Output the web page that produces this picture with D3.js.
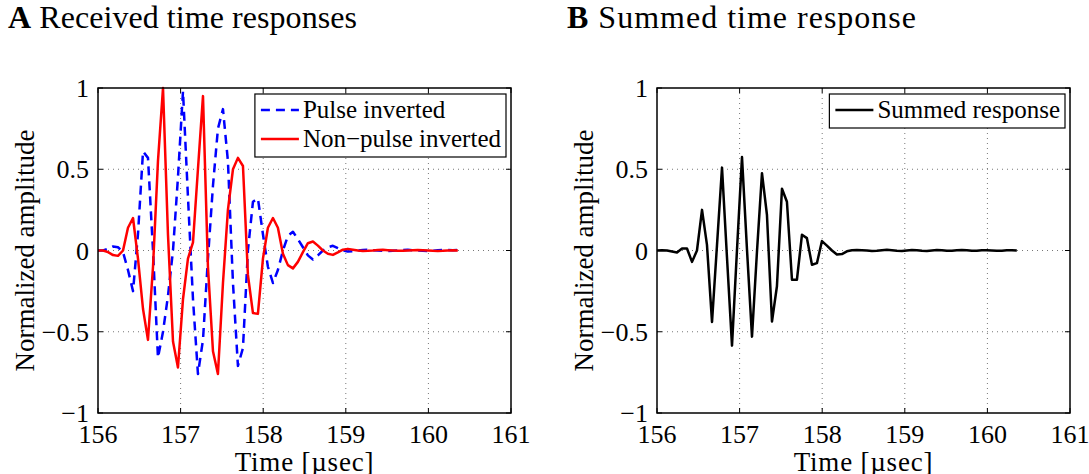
<!DOCTYPE html>
<html>
<head>
<meta charset="utf-8">
<script src="https://cdn.jsdelivr.net/npm/d3@7"></script>
<style>
  body { margin: 0; background: #fff; }
  svg { display: block; }
</style>
</head>
<body>
<div id="viz"></div>
<script>
const width = 1089;
const height = 474;
const serif = '"Liberation Serif", "Times New Roman", Times, serif';

// sample times [usec]
const times = [
  156.000, 156.061, 156.121, 156.182, 156.242, 156.303, 156.363, 156.424, 156.484, 156.545,
  156.605, 156.666, 156.726, 156.787, 156.847, 156.908, 156.968, 157.029, 157.089, 157.150,
  157.210, 157.271, 157.331, 157.392, 157.452, 157.513, 157.573, 157.634, 157.694, 157.755,
  157.815, 157.876, 157.936, 157.997, 158.057, 158.118, 158.178, 158.239, 158.299, 158.360,
  158.420, 158.481, 158.541, 158.602, 158.662, 158.723, 158.783, 158.844, 158.904, 158.965,
  159.025, 159.086, 159.146, 159.207, 159.267, 159.328, 159.388, 159.449, 159.509, 159.570,
  159.630, 159.691, 159.751, 159.812, 159.872, 159.933, 159.993, 160.054, 160.114, 160.175,
  160.235, 160.296, 160.356
];

const pulseInverted = [
  0, 0, 0.01, 0.025, 0.02, -0.01, -0.12, -0.25, 0.1, 0.61,
  0.57, 0.0, -0.66, -0.5, -0.28, 0.0, 0.45, 0.98, 0.33, -0.3,
  -0.76, -0.55, -0.05, 0.4, 0.75, 0.87, 0.55, -0.2, -0.71, -0.6,
  0.0, 0.3, 0.32, 0.1, -0.1, -0.2, -0.12, 0.0, 0.09, 0.115,
  0.07, 0.02, -0.03, -0.055, -0.03, 0.0, 0.02, 0.029, 0.015, 0.0,
  -0.006, -0.005, 0.0, 0.003, 0.004, 0.002, 0.0, -0.002, -0.003, -0.001,
  0.001, 0.003, 0.004, 0.002, 0.0, -0.002, -0.003, -0.001, 0.001, 0.003,
  0.003, 0.002, 0.004
];

const nonPulseInverted = [
  0, 0, -0.01, -0.028, -0.033, 0.0, 0.14, 0.2, -0.05, -0.36,
  -0.55, -0.1, 0.55, 1.0, 0.1, -0.56, -0.72, -0.3, -0.05, 0.05,
  0.5, 0.95, -0.1, -0.62, -0.76, -0.2, 0.25, 0.5, 0.57, 0.52,
  -0.15, -0.385, -0.39, -0.05, 0.14, 0.2, 0.14, -0.02, -0.09, -0.11,
  -0.07, -0.01, 0.045, 0.055, 0.03, 0.0, -0.02, -0.027, -0.012, 0.005,
  0.01, 0.005, 0.0, -0.003, -0.002, 0.0, 0.003, 0.004, 0.002, 0.0,
  -0.002, -0.002, 0.0, 0.002, 0.003, 0.002, 0.0, -0.002, -0.003, -0.002,
  0.0, 0.002, 0.0
];

const summedResponse = [
  0, 0.002, 0.0, -0.006, -0.012, 0.012, 0.012, -0.07, 0.0, 0.25,
  0.035, -0.44, 0.03, 0.51, -0.04, -0.585, 0.0, 0.575, 0.01, -0.53,
  -0.01, 0.476, 0.22, -0.437, -0.22, 0.38, 0.30, -0.18, -0.18, 0.097,
  0.076, -0.088, -0.078, 0.058, 0.03, 0.0, -0.025, -0.022, -0.005, 0.002,
  0.003, 0.002, 0.0, -0.003, -0.002, 0.002, 0.004, 0.002, -0.002, -0.003,
  0.0, 0.003, 0.002, -0.002, -0.003, 0.0, 0.003, 0.002, -0.002, -0.002,
  0.001, 0.003, 0.001, -0.002, -0.002, 0.001, 0.002, 0.0, -0.002, -0.001,
  0.001, 0.001, 0.0
];

const xTicks = [156, 157, 158, 159, 160, 161];
const yTicks = [-1, -0.5, 0, 0.5, 1];

const panels = [
  {
    letter: 'A', title: 'Received time responses', left: 98, titleX: 8, titleW: 349,
    series: [
      {name: 'Pulse inverted', values: pulseInverted, color: '#0000ff', dash: '9,6'},
      {name: 'Non\u2212pulse inverted', values: nonPulseInverted, color: '#ff0000', dash: null}
    ]
  },
  {
    letter: 'B', title: 'Summed time response', left: 657, titleX: 567, titleW: 350,
    series: [
      {name: 'Summed response', values: summedResponse, color: '#000000', dash: null}
    ]
  }
];

const plotW = 413;
const plotTop = 88;
const plotBottom = 413;

const svg = d3.select('#viz')
  .append('svg')
    .attr('width', width)
    .attr('height', height)
    .attr('font-family', serif);

svg.append('rect')
  .attr('width', width)
  .attr('height', height)
  .attr('fill', '#fff');

const fmt = d => d < 0 ? '\u2212' + Math.abs(d) : String(d);

panels.forEach(p => {
  const x = d3.scaleLinear().domain([156, 161]).range([p.left, p.left + plotW]);
  const y = d3.scaleLinear().domain([-1, 1]).range([plotBottom, plotTop]);
  const g = svg.append('g');

  // panel title, spread a little to the width of the original lettering
  const title = svg.append('text')
    .attr('x', p.titleX)
    .attr('y', 28)
    .attr('font-size', 32);
  title.append('tspan').attr('font-weight', 'bold').text(p.letter);
  title.append('tspan').text(' ' + p.title);
  const tw = title.node().getComputedTextLength();
  const nChars = p.letter.length + 1 + p.title.length;
  title.attr('letter-spacing', Math.max(0, (p.titleW - tw) / nChars));

  // dotted grid
  g.selectAll('.gx')
    .data(xTicks.slice(1, -1))
    .join('line')
      .attr('x1', d => x(d)).attr('x2', d => x(d))
      .attr('y1', plotTop).attr('y2', plotBottom)
      .attr('stroke', '#777').attr('stroke-width', 1).attr('stroke-dasharray', '1,4');
  g.selectAll('.gy')
    .data(yTicks.slice(1, -1))
    .join('line')
      .attr('y1', d => y(d)).attr('y2', d => y(d))
      .attr('x1', p.left).attr('x2', p.left + plotW)
      .attr('stroke', '#777').attr('stroke-width', 1).attr('stroke-dasharray', '1,4');

  // inner ticks on all four sides
  const tl = 5;
  xTicks.forEach(t => {
    g.append('line').attr('x1', x(t)).attr('x2', x(t)).attr('y1', plotBottom).attr('y2', plotBottom - tl).attr('stroke', '#000');
    g.append('line').attr('x1', x(t)).attr('x2', x(t)).attr('y1', plotTop).attr('y2', plotTop + tl).attr('stroke', '#000');
  });
  yTicks.forEach(t => {
    g.append('line').attr('x1', p.left).attr('x2', p.left + tl).attr('y1', y(t)).attr('y2', y(t)).attr('stroke', '#000');
    g.append('line').attr('x1', p.left + plotW).attr('x2', p.left + plotW - tl).attr('y1', y(t)).attr('y2', y(t)).attr('stroke', '#000');
  });

  // tick labels
  g.selectAll('.xl')
    .data(xTicks)
    .join('text')
      .attr('x', d => x(d))
      .attr('y', plotBottom + 30)
      .attr('text-anchor', 'middle')
      .attr('font-size', 26)
      .text(d => d);
  g.selectAll('.yl')
    .data(yTicks)
    .join('text')
      .attr('x', p.left - 9)
      .attr('y', d => y(d))
      .attr('dy', '0.35em')
      .attr('text-anchor', 'end')
      .attr('font-size', 26)
      .text(fmt);

  // axis titles
  g.append('text')
    .attr('x', p.left + plotW / 2)
    .attr('y', 471)
    .attr('text-anchor', 'middle')
    .attr('font-size', 27)
    .attr('letter-spacing', 0.8)
    .text('Time [\u00b5sec]');
  g.append('text')
    .attr('transform', `translate(${p.left - 64}, ${(plotTop + plotBottom) / 2}) rotate(-90)`)
    .attr('text-anchor', 'middle')
    .attr('font-size', 27)
    .text('Normalized amplitude');

  // data lines
  const line = d3.line()
    .x((d, i) => x(times[i]))
    .y(d => y(d));
  p.series.forEach(s => {
    g.append('path')
      .datum(s.values)
      .attr('d', line)
      .attr('fill', 'none')
      .attr('stroke', s.color)
      .attr('stroke-width', 2.5)
      .attr('stroke-linejoin', 'round')
      .attr('stroke-dasharray', s.dash);
  });

  // axes box
  g.append('rect')
    .attr('x', p.left).attr('y', plotTop)
    .attr('width', plotW).attr('height', plotBottom - plotTop)
    .attr('fill', 'none').attr('stroke', '#000').attr('stroke-width', 1.5);

  // legend
  const lg = g.append('g');
  const rowH = 29;
  const labels = lg.selectAll('text')
    .data(p.series)
    .join('text')
      .attr('y', (d, i) => 24 + i * rowH)
      .attr('x', 48)
      .attr('font-size', 25)
      .text(d => d.name);
  let maxW = 0;
  labels.each(function() { maxW = Math.max(maxW, this.getComputedTextLength()); });
  lg.selectAll('line')
    .data(p.series)
    .join('line')
      .attr('x1', 6).attr('x2', 44)
      .attr('y1', (d, i) => 16 + i * rowH).attr('y2', (d, i) => 16 + i * rowH)
      .attr('stroke', d => d.color)
      .attr('stroke-width', 2.5)
      .attr('stroke-dasharray', d => d.dash);
  const boxW = 48 + maxW + 5;
  const boxH = p.series.length * rowH + 5;
  lg.insert('rect', ':first-child')
    .attr('width', boxW).attr('height', boxH)
    .attr('fill', '#fff').attr('stroke', '#000').attr('stroke-width', 1.2);
  lg.attr('transform', `translate(${p.left + plotW - 5 - boxW}, ${plotTop + 6})`);
});
</script>
</body>
</html>
